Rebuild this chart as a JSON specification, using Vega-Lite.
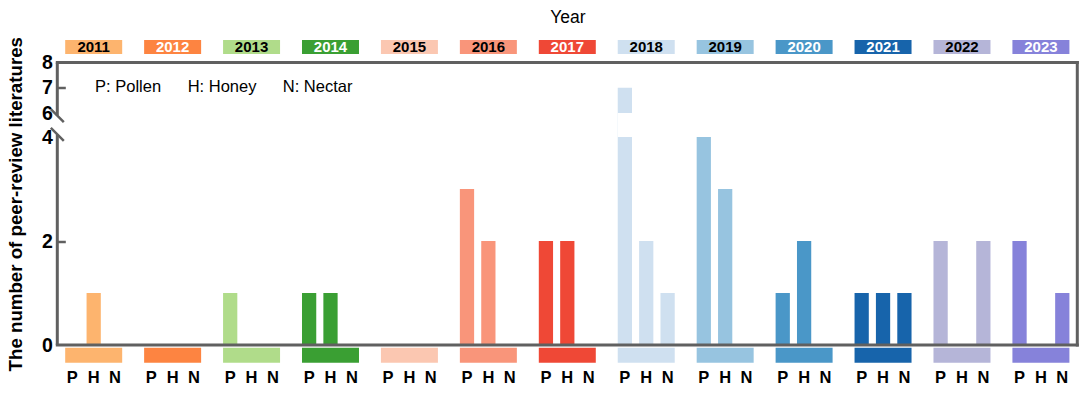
{
  "$schema": "https://vega.github.io/schema/vega-lite/v6.json",
  "autosize": "none",
  "padding": {"left": 57.3, "top": 62.5, "right": 5.7, "bottom": 50},
  "width": 1020,
  "height": 282.5,
  "config": {"font": "Liberation Sans", "view": {"stroke": null}},
  "datasets": {
    "counts": [
      {"year": "2011", "type": "P", "count": 0}, {"year": "2011", "type": "H", "count": 1}, {"year": "2011", "type": "N", "count": 0},
      {"year": "2012", "type": "P", "count": 0}, {"year": "2012", "type": "H", "count": 0}, {"year": "2012", "type": "N", "count": 0},
      {"year": "2013", "type": "P", "count": 1}, {"year": "2013", "type": "H", "count": 0}, {"year": "2013", "type": "N", "count": 0},
      {"year": "2014", "type": "P", "count": 1}, {"year": "2014", "type": "H", "count": 1}, {"year": "2014", "type": "N", "count": 0},
      {"year": "2015", "type": "P", "count": 0}, {"year": "2015", "type": "H", "count": 0}, {"year": "2015", "type": "N", "count": 0},
      {"year": "2016", "type": "P", "count": 3}, {"year": "2016", "type": "H", "count": 2}, {"year": "2016", "type": "N", "count": 0},
      {"year": "2017", "type": "P", "count": 2}, {"year": "2017", "type": "H", "count": 2}, {"year": "2017", "type": "N", "count": 0},
      {"year": "2018", "type": "P", "count": 7}, {"year": "2018", "type": "H", "count": 2}, {"year": "2018", "type": "N", "count": 1},
      {"year": "2019", "type": "P", "count": 4}, {"year": "2019", "type": "H", "count": 3}, {"year": "2019", "type": "N", "count": 0},
      {"year": "2020", "type": "P", "count": 1}, {"year": "2020", "type": "H", "count": 2}, {"year": "2020", "type": "N", "count": 0},
      {"year": "2021", "type": "P", "count": 1}, {"year": "2021", "type": "H", "count": 1}, {"year": "2021", "type": "N", "count": 1},
      {"year": "2022", "type": "P", "count": 2}, {"year": "2022", "type": "H", "count": 0}, {"year": "2022", "type": "N", "count": 2},
      {"year": "2023", "type": "P", "count": 2}, {"year": "2023", "type": "H", "count": 0}, {"year": "2023", "type": "N", "count": 1}
    ]
  },
  "layer": [
    {
      "data": {"name": "counts"},
      "layer": [
        {
          "mark": {"type": "bar"},
          "encoding": {
            "x": {
              "field": "year", "type": "nominal",
              "scale": {"paddingInner": 0.278, "paddingOuter": 0.1},
              "axis": {"orient": "top", "title": "Year", "titleFontSize": 17.5, "titleFontWeight": "normal", "titleColor": "black", "titlePadding": 36, "labels": false, "ticks": false, "domain": false}
            },
            "xOffset": {"field": "type", "type": "nominal", "scale": {"domain": ["P", "H", "N"], "paddingInner": 0.333, "paddingOuter": 0}},
            "y": {
              "field": "count", "type": "quantitative",
              "scale": {"domain": [0, 4, 6, 8], "range": [282.5, 74.5, 50.5, 0], "nice": false, "zero": false},
              "axis": {
                "values": [0, 2, 4, 6, 7, 8], "format": "d",
                "title": "The number of peer-review literatures", "titleFontSize": 18.7, "titleFontWeight": "bold", "titleColor": "black", "titlePadding": 16,
                "labelFontSize": 19.5, "labelFontWeight": "bold", "labelColor": "black", "labelPadding": 13, "labelOverlap": false, "labelFlush": false,
                "domain": false, "grid": false,
                "tickSize": -8, "tickWidth": 2.5, "tickColor": "#606060",
                "tickOpacity": {"condition": {"test": "datum.value == 0 || datum.value == 4 || datum.value == 6 || datum.value == 8", "value": 0}, "value": 1}
              }
            },
            "color": {
              "field": "year", "type": "nominal", "legend": null,
              "scale": {
                "domain": ["2011", "2012", "2013", "2014", "2015", "2016", "2017", "2018", "2019", "2020", "2021", "2022", "2023"],
                "range": ["#fdb46e", "#fd8441", "#b0dc8a", "#3a9f33", "#fbc7b1", "#f9957a", "#ef4836", "#cfe0f0", "#97c4e0", "#4a97c8", "#1764ab", "#b5b5d8", "#8682da"]
              }
            }
          }
        },
        {
          "data": {"values": [{"year": "2018"}]},
          "mark": {"type": "rect", "fill": "white"},
          "encoding": {
            "x": {"field": "year", "type": "nominal"},
            "y": {"datum": 4},
            "y2": {"datum": 6}
          }
        },
        {
          "transform": [{"aggregate": [{"op": "count", "as": "n"}], "groupby": ["year"]}],
          "mark": {"type": "rect"},
          "encoding": {
            "x": {"field": "year", "type": "nominal"},
            "y": {"datum": -0.052},
            "y2": {"datum": -0.34},
            "color": {"field": "year", "type": "nominal", "legend": null}
          }
        },
        {
          "transform": [{"aggregate": [{"op": "count", "as": "n"}], "groupby": ["year"]}],
          "mark": {"type": "rect"},
          "encoding": {
            "x": {"field": "year", "type": "nominal"},
            "y": {"datum": 8.337},
            "y2": {"datum": 8.891},
            "color": {"field": "year", "type": "nominal", "legend": null}
          }
        },
        {
          "transform": [{"aggregate": [{"op": "count", "as": "n"}], "groupby": ["year"]}],
          "mark": {"type": "text", "fontSize": 15, "fontWeight": "bold", "baseline": "alphabetic", "align": "center"},
          "encoding": {
            "x": {"field": "year", "type": "nominal"},
            "y": {"datum": 8.404},
            "text": {"field": "year"},
            "color": {"condition": {"test": "indexof(['2012','2014','2017','2020','2021','2023'], datum.year) >= 0", "value": "white"}, "value": "black"}
          }
        },
        {
          "mark": {"type": "text", "fontSize": 16.5, "fontWeight": "bold", "baseline": "alphabetic", "align": "center", "color": "black"},
          "encoding": {
            "x": {"field": "year", "type": "nominal"},
            "xOffset": {"field": "type", "type": "nominal"},
            "y": {"datum": -0.725},
            "text": {"field": "type"}
          }
        }
      ]
    },
    {
      "data": {"values": [{}]},
      "layer": [
        {
          "mark": {"type": "rule", "color": "#606060", "strokeWidth": 3, "strokeCap": "square"},
          "encoding": {"y": {"datum": 8}}
        },
        {
          "mark": {"type": "rule", "color": "#606060", "strokeWidth": 3, "strokeCap": "square"},
          "encoding": {"y": {"datum": 0}}
        },
        {
          "mark": {"type": "rule", "color": "#606060", "strokeWidth": 3, "strokeCap": "square"},
          "encoding": {"x": {"datum": 1, "type": "quantitative", "scale": {"domain": [0, 1], "nice": false, "zero": false}, "axis": null}}
        },
        {
          "mark": {"type": "rule", "color": "#606060", "strokeWidth": 3, "strokeCap": "butt"},
          "encoding": {
            "x": {"datum": 0, "type": "quantitative", "scale": {"domain": [0, 1], "nice": false, "zero": false}, "axis": null},
            "y": {"datum": 8}, "y2": {"datum": 5.78}
          }
        },
        {
          "mark": {"type": "rule", "color": "#606060", "strokeWidth": 3, "strokeCap": "butt"},
          "encoding": {
            "x": {"datum": 0, "type": "quantitative", "scale": {"domain": [0, 1], "nice": false, "zero": false}, "axis": null},
            "y": {"datum": 4.21}, "y2": {"datum": 0}
          }
        },
        {
          "mark": {"type": "point", "shape": "M-1,-1L1,1", "filled": false, "stroke": "#606060", "strokeWidth": 2.5, "size": 169, "opacity": 1},
          "encoding": {
            "x": {"datum": 0, "type": "quantitative", "scale": {"domain": [0, 1], "nice": false, "zero": false}, "axis": null},
            "y": {"datum": 5.78}
          }
        },
        {
          "mark": {"type": "point", "shape": "M-1,-1L1,1", "filled": false, "stroke": "#606060", "strokeWidth": 2.5, "size": 169, "opacity": 1},
          "encoding": {
            "x": {"datum": 0, "type": "quantitative", "scale": {"domain": [0, 1], "nice": false, "zero": false}, "axis": null},
            "y": {"datum": 4.21}
          }
        },
        {
          "mark": {"type": "text", "fontSize": 16.5, "baseline": "alphabetic", "align": "left", "color": "black", "text": "P: Pollen"},
          "encoding": {
            "x": {"datum": 0.037, "type": "quantitative", "scale": {"domain": [0, 1], "nice": false, "zero": false}, "axis": null},
            "y": {"datum": 6.844}
          }
        },
        {
          "mark": {"type": "text", "fontSize": 16.5, "baseline": "alphabetic", "align": "left", "color": "black", "text": "H: Honey"},
          "encoding": {
            "x": {"datum": 0.1278, "type": "quantitative", "scale": {"domain": [0, 1], "nice": false, "zero": false}, "axis": null},
            "y": {"datum": 6.844}
          }
        },
        {
          "mark": {"type": "text", "fontSize": 16.5, "baseline": "alphabetic", "align": "left", "color": "black", "text": "N: Nectar"},
          "encoding": {
            "x": {"datum": 0.221, "type": "quantitative", "scale": {"domain": [0, 1], "nice": false, "zero": false}, "axis": null},
            "y": {"datum": 6.844}
          }
        }
      ]
    }
  ],
  "resolve": {"scale": {"x": "independent"}}
}
